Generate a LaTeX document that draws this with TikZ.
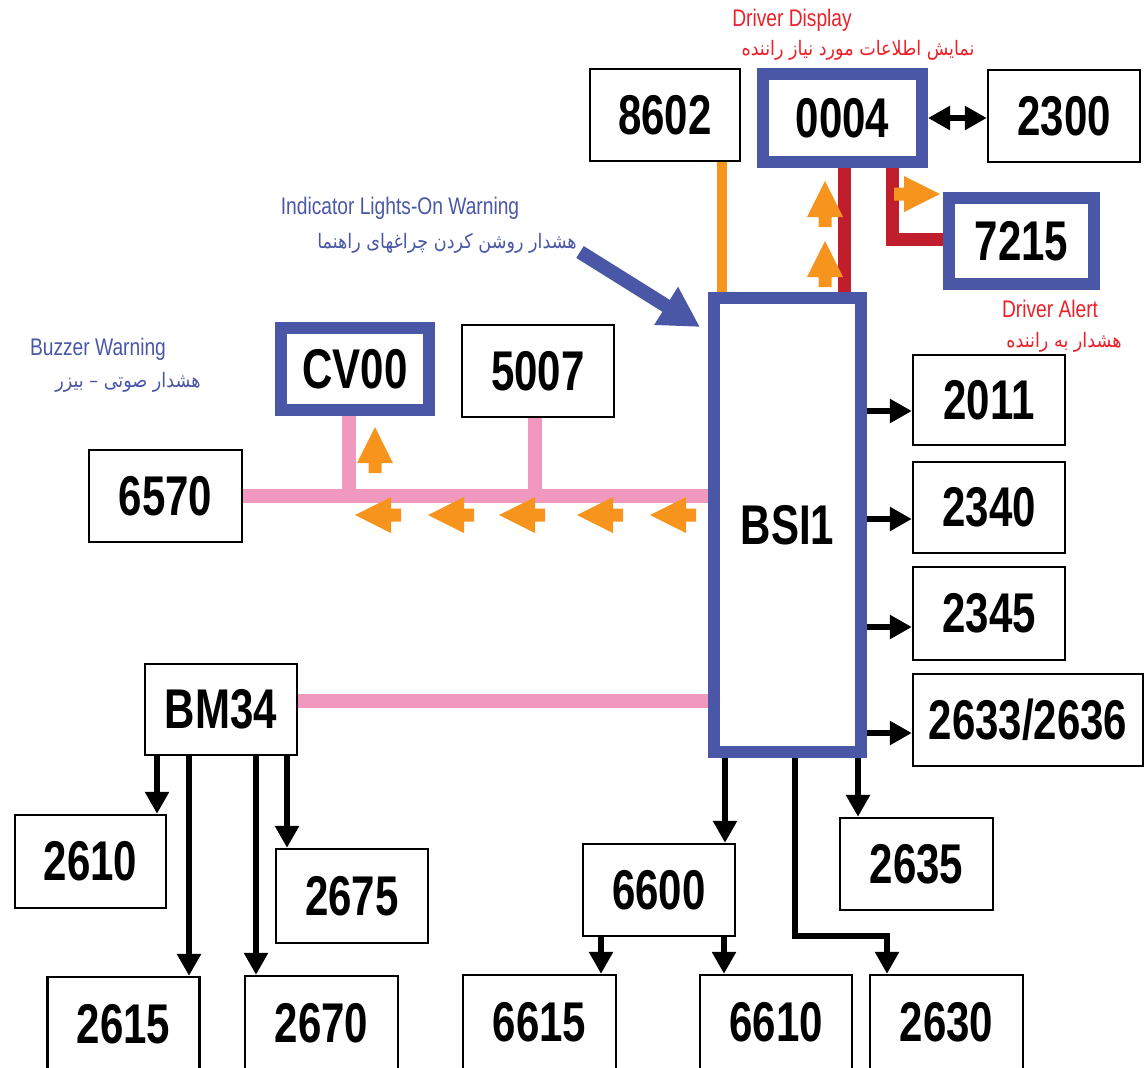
\documentclass[tikz,border=0pt]{standalone}
\usepackage{fontspec}
\setmainfont{Liberation Sans}
\newfontfamily\numfont[FakeStretch=0.75]{Liberation Sans}
\newfontfamily\labfont[FakeStretch=0.8]{Liberation Sans}
\newfontfamily\farsifont[Script=Arabic,FakeStretch=0.88]{DejaVu Sans}
\TeXXeTstate=1
\usetikzlibrary{arrows.meta}

\definecolor{boxblue}{RGB}{74,87,166}
\definecolor{redtxt}{RGB}{236,32,40}
\definecolor{orng}{RGB}{247,148,29}
\definecolor{pnk}{RGB}{241,152,190}
\definecolor{dred}{RGB}{192,30,45}

\pgfdeclarelayer{background}
\pgfsetlayers{background,main}

% orange block arrow: tip at (#1,#2), direction #3
\newcommand{\blockarrow}[3]{%
    \fill[orng,shift={(#1,#2)},rotate=#3] (0,0) -- (-36,18) -- (-36,6.5) -- (-46,6.5)
        -- (-46,-6.5) -- (-36,-6.5) -- (-36,-18) -- cycle;}

\tikzset{
    box/.style={draw=black,line width=1.2pt,fill=white,inner sep=0pt,
        minimum width=76pt,minimum height=46pt,
        font=\numfont\bfseries\fontsize{28}{30}\selectfont},
    bluebox/.style={box,draw=boxblue,line width=6pt},
    lab/.style={inner sep=0pt,font=\labfont\fontsize{12}{14}\selectfont},
    fa/.style={inner sep=0pt,font=\farsifont\fontsize{10}{12}\selectfont},
    blk/.style={line width=3pt,line join=miter,-{Triangle[length=11pt,width=11.5pt]}},
    pinkbus/.style={pnk,line width=7pt},
}

\begin{document}
\begin{tikzpicture}[x=0.5pt,y=-0.5pt]
    \useasboundingbox (0,0) rectangle (1144,1067);
    %
    \node[box,minimum width=75pt] (n8602) at (665,115) {8602};
    \node[bluebox,minimum width=79.5pt,minimum height=44pt] (n0004) at (842.5,118) {0004};
    \node[box] (n2300) at (1064,116) {2300};
    \node[bluebox,minimum width=72.5pt,minimum height=43pt] (n7215) at (1021.5,241) {7215};
    \node[bluebox,minimum width=73.5pt,minimum height=227pt] (bsi) at (787.5,525) {BSI1};
    \node[bluebox,minimum width=74pt,minimum height=41pt] (cv00) at (355,369) {CV00};
    \node[box] (n5007) at (538,371) {5007};
    \node[box,minimum width=76.5pt] (n6570) at (165.5,496) {6570};
    \node[box,minimum height=45.5pt] (bm34) at (221,709.5) {BM34};
    %
    \node[box,minimum height=45pt] (n2011) at (989,400) {2011};
    \node[box,minimum height=45.5pt] (n2340) at (989,507.5) {2340};
    \node[box,minimum height=46.5pt] (n2345) at (989,613.5) {2345};
    \node[box,minimum width=115pt] (n2633) at (1028,720) {2633/2636};
    %
    \node[box] (n6600) at (659,890) {6600};
    \node[box,minimum width=76.5pt] (n2635) at (916.5,864) {2635};
    \node[box,minimum width=76.5pt,minimum height=47pt] (n6615) at (539.5,1022) {6615};
    \node[box,minimum height=47pt] (n6610) at (776,1022) {6610};
    \node[box,minimum width=76.5pt,minimum height=47pt] (n2630) at (946.5,1022) {2630};
    \node[box,minimum width=75.5pt,minimum height=46.5pt] (n2610) at (90.5,861.5) {2610};
    \node[box,minimum height=47pt] (n2675) at (352,896) {2675};
    \node[box,minimum height=47pt] (n2615) at (123.5,1024) {2615};
    \node[box,minimum width=76.5pt,minimum height=47pt] (n2670) at (321.5,1023) {2670};
    %
    \node[lab,text=redtxt] (dd) at (792,20) {Driver Display};
    \node[fa,text=redtxt] (ddfa) at (858,50) {\beginR نمایش اطلاعات مورد نیاز راننده\endR};
    \node[lab,text=redtxt] (da) at (1050,309) {Driver Alert};
    \node[fa,text=redtxt] (dafa) at (1064,342) {\beginR هشدار به راننده\endR};
    \node[lab,text=boxblue] (il) at (400,208) {Indicator Lights-On Warning};
    \node[fa,text=boxblue] (ilfa) at (447,243) {\beginR هشدار روشن کردن چراغهای راهنما\endR};
    \node[lab,text=boxblue] (bw) at (98,349) {Buzzer Warning};
    \node[fa,text=boxblue] (bwfa) at (128,382) {\beginR هشدار صوتی – بیزر\endR};
    %
    \begin{pgfonlayer}{background}
        % pink lines
        \draw[pinkbus] (n6570.east) -- (n6570.east -| bsi.west);
        \path ([xshift=-3pt]cv00.south) coordinate (cvb);
        \draw[pinkbus] (cvb) -- (cvb |- n6570.east);
        \path ([xshift=-1.5pt]n5007.south) coordinate (b5007);
        \draw[pinkbus] (b5007) -- (b5007 |- n6570.east);
        \path ([yshift=4.5pt]bm34.east) coordinate (bmp);
        \draw[pinkbus] (bmp) -- (bmp -| bsi.west);
        % lines on top
        \path ([xshift=28.5pt]n8602.south) coordinate (o8602);
        \draw[orng,line width=5pt] (o8602) -- (o8602 |- bsi.north);
        \path ([xshift=1pt]n0004.south) coordinate (r1);
        \draw[dred,line width=6.5pt] (r1) -- (r1 |- bsi.north);
        \path ([xshift=24.75pt]n0004.south) coordinate (r2);
        \path ([yshift=1pt]n7215.west) coordinate (w7215);
        \draw[dred,line width=6.5pt,line join=miter] (r2) |- (w7215);
        % black arrows
        \draw[blk,{Triangle[length=11pt,width=11.5pt]}-{Triangle[length=11pt,width=11.5pt]}]
            (n0004.east) -- (n0004.east -| n2300.west);
        \foreach \n/\dy in {n2011/-5.5,n2340/-5.75,n2345/-6.75,n2633/-6.5} {
            \path ([yshift=\dy pt]\n.west) coordinate (t);
            \draw[blk] (t -| bsi.east) -- (t);
        }
        \path ([xshift=33pt]n6600.north) coordinate (a6600);
        \draw[blk] (a6600 |- bsi.south) -- (a6600);
        \path ([xshift=-29.25pt]n2635.north) coordinate (a2635);
        \draw[blk] (a2635 |- bsi.south) -- (a2635);
        \path ([xshift=3.75pt]bsi.south) coordinate (s2630);
        \path ([xshift=-29.75pt]n2630.north) coordinate (a2630);
        \draw[blk] (s2630) |- ([yshift=19pt]a2630) -- (a2630);
        \foreach \m/\n/\dx in {n6600/n6615/30.75,n6600/n6610/-26,
            bm34/n2610/33.25,bm34/n2615/32.75,bm34/n2670/-32.75,bm34/n2675/-32.5} {
            \path ([xshift=\dx pt]\n.north) coordinate (t);
            \draw[blk] (t |- \m.south) -- (t);
        }
    \end{pgfonlayer}
    %
    % orange flow arrows
    \blockarrow{825}{181}{90}
    \blockarrow{825}{241}{90}
    \blockarrow{940}{194}{0}
    \blockarrow{375}{427}{90}
    \foreach \x in {355,428,499,577,650}
        \blockarrow{\x}{515}{180}
    %
    \coordinate (indtail) at (580,252);
    \coordinate (indtip) at (700,327);
    \draw[boxblue,line width=7pt,-{Triangle[length=20pt,width=21pt]}] (indtail) -- (indtip);
\end{tikzpicture}
\end{document}
